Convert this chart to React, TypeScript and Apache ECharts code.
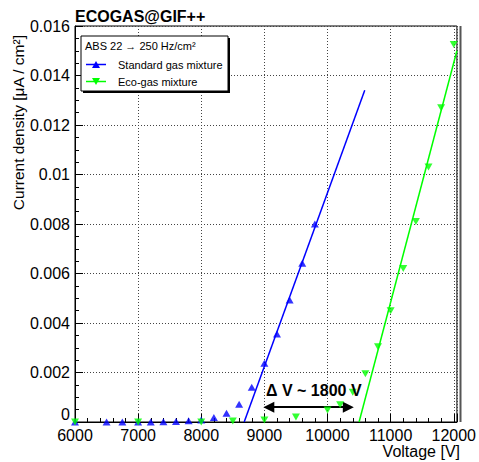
import React, { useEffect, useRef } from "react";
import * as echarts from "echarts";

// ---- data ----
const stdVoltage = [6000, 6500, 6750, 7000, 7200, 7400, 7600, 7800, 8000, 8200, 8400, 8600, 8800, 9000, 9200, 9400, 9600, 9800];
const stdCurrent = [0, 0, 0, 0, 0, 0.00001, 0.00002, 0.00005, 0.00008, 0.00018, 0.00035, 0.00072, 0.0014, 0.00237, 0.00356, 0.00493, 0.00641, 0.008];
const ecoVoltage = [6000, 7000, 8000, 8500, 9000, 9500, 10000, 10200, 10400, 10600, 10800, 11000, 11200, 11400, 11600, 11800, 12000];
const ecoCurrent = [0, 0, 0, 0.00004, 0.00008, 0.0002, 0.00048, 0.0007, 0.0012, 0.00195, 0.00304, 0.0045, 0.0062, 0.0081, 0.0103, 0.0127, 0.01525];
const stdFit = [[8680, 0], [10590, 0.0134]];
const ecoFit = [[10500, 0], [12050, 0.015]];
const deltaArrow = [[9070, 0.0006], [10330, 0.0006]];
const titleText = "ECOGAS@GIF++";
const legendHeader = "ABS 22 \u2192 250 Hz/cm\u00B2";
const legendStd = "Standard gas mixture";
const legendEco = "Eco-gas mixture";
const annotation = "\u0394 V ~ 1800 V";
const xTitle = "Voltage [V]";
const yTitle = "Current density [\u03BCA / cm\u00B2]";

const FONT = "'Liberation Sans', Arial, Helvetica, sans-serif";
const BLUE = "#0000ff";
const GREEN = "#00ff00";

export default function App() {
  const ref = useRef<HTMLDivElement>(null);
  useEffect(() => {
    if (!ref.current) return;
    const chart = echarts.init(ref.current, null, { renderer: "svg" });
    const zip = (xs: number[], ys: number[]) => xs.map((x, i) => [x, ys[i]]);
    const axisCommon = {
      axisLine: { show: true, lineStyle: { color: "#000", width: 1 } },
      axisTick: { show: true, inside: true, length: 8, lineStyle: { color: "#000" } },
      minorTick: { show: true, length: 4, lineStyle: { color: "#000" } },
      splitLine: { show: true, lineStyle: { color: "#444", type: [1, 2], width: 1 } },
      axisLabel: { color: "#000", fontSize: 16, fontFamily: FONT, formatter: (v: number) => String(v) },
    };
    const tri = (cx: number, cy: number, down: boolean, color: string) => ({
      type: "polygon",
      shape: {
        points: down
          ? [[cx - 4, cy - 3.5], [cx + 4, cy - 3.5], [cx, cy + 3.5]]
          : [[cx - 4, cy + 3.5], [cx + 4, cy + 3.5], [cx, cy - 3.5]],
      },
      style: { fill: color },
      z: 102,
    });
    const txt = (text: string, x: number, y: number, font: string, align = "left", extra: any = {}) => ({
      type: "text",
      x,
      y,
      z: 102,
      ...extra,
      style: { text, font, fill: "#000", align, verticalAlign: "middle" },
    });
    chart.setOption({
      animation: false,
      backgroundColor: "#fff",
      grid: { left: 75, right: 19, top: 26, bottom: 40, show: true, borderColor: "#000", borderWidth: 1, backgroundColor: "transparent" },
      xAxis: {
        type: "value",
        min: 6000,
        max: 12050,
        interval: 1000,
        ...axisCommon,
        minorTick: { ...axisCommon.minorTick, splitNumber: 5 },
        axisLabel: { ...axisCommon.axisLabel, margin: 5, showMaxLabel: false },
      },
      yAxis: {
        type: "value",
        min: 0,
        max: 0.016,
        interval: 0.002,
        ...axisCommon,
        minorTick: { ...axisCommon.minorTick, splitNumber: 4 },
        axisLabel: { ...axisCommon.axisLabel, margin: 5, showMinLabel: false },
      },
      series: [
        {
          type: "line",
          data: stdFit,
          showSymbol: false,
          clip: false,
          lineStyle: { color: BLUE, width: 1.5 },
          z: 3,
        },
        {
          type: "line",
          data: ecoFit,
          showSymbol: false,
          clip: false,
          lineStyle: { color: GREEN, width: 1.5 },
          z: 3,
          markLine: {
            silent: true,
            symbol: ["triangle", "triangle"],
            symbolSize: [11, 11],
            label: { show: false },
            lineStyle: { color: "#000", width: 2, type: "solid" },
            data: [[{ coord: deltaArrow[0] }, { coord: deltaArrow[1] }]],
          },
        },
        {
          type: "scatter",
          data: zip(stdVoltage, stdCurrent),
          symbol: "triangle",
          symbolSize: [8, 7],
          clip: false,
          itemStyle: { color: BLUE },
          z: 4,
        },
        {
          type: "scatter",
          data: zip(ecoVoltage, ecoCurrent),
          symbol: "triangle",
          symbolRotate: 180,
          symbolSize: [8, 7],
          clip: false,
          itemStyle: { color: GREEN },
          z: 5,
        },
      ],
      graphic: [
        { type: "line", shape: { x1: 460.5, y1: 26, x2: 460.5, y2: 422 }, style: { stroke: "#555", lineWidth: 2 }, z: 50 },
        txt("0", 70, 414, `16px ${FONT}`, "right"),
        txt(titleText, 75, 16, `bold 16px ${FONT}`),
        txt(yTitle, 18, 35, `15.5px ${FONT}`, "right", { rotation: Math.PI / 2 }),
        txt(xTitle, 460, 451, `16px ${FONT}`, "right"),
        txt(annotation, 266, 390, `bold 16px ${FONT}`),
        // legend box with shadow
        { type: "rect", shape: { x: 83, y: 38, width: 147, height: 55 }, style: { fill: "#000" }, z: 100 },
        { type: "rect", shape: { x: 81, y: 36, width: 147, height: 55 }, style: { fill: "#fff", stroke: "#000", lineWidth: 1 }, z: 101 },
        txt(legendHeader, 85, 46, `11px ${FONT}`),
        { type: "line", shape: { x1: 86, y1: 64.5, x2: 106, y2: 64.5 }, style: { stroke: BLUE, lineWidth: 1.5 }, z: 102 },
        tri(96, 64.5, false, BLUE),
        txt(legendStd, 118, 64.5, `11px ${FONT}`),
        { type: "line", shape: { x1: 86, y1: 81.5, x2: 106, y2: 81.5 }, style: { stroke: GREEN, lineWidth: 1.5 }, z: 102 },
        tri(96, 81.5, true, GREEN),
        txt(legendEco, 118, 81.5, `11px ${FONT}`),
      ],
    });
    return () => chart.dispose();
  }, []);
  return <div ref={ref} style={{ position: "fixed", left: 0, top: 0, width: 479, height: 462 }} />;
}
